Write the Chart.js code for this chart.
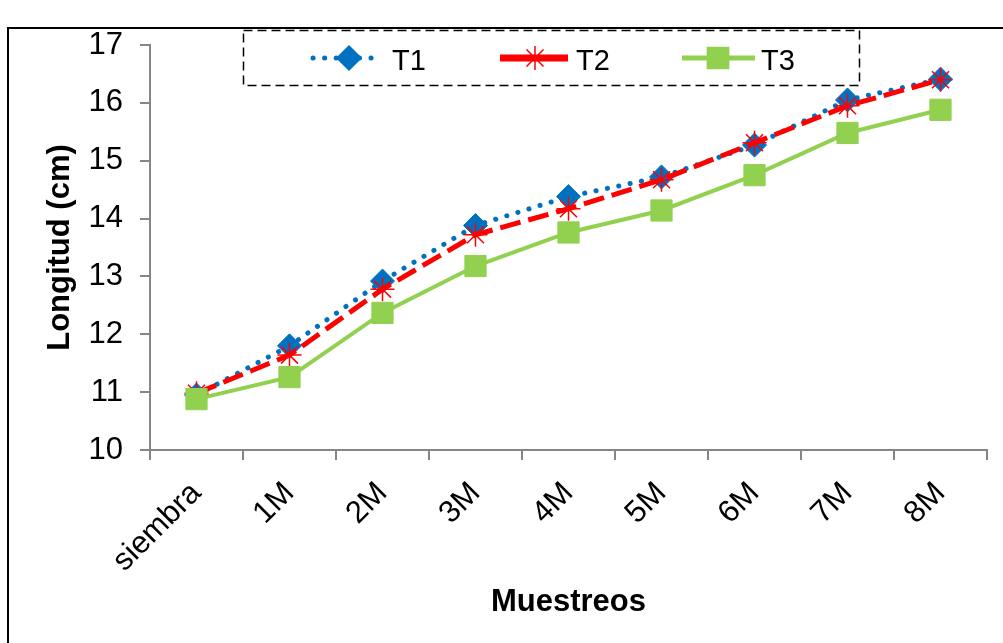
<!DOCTYPE html>
<html>
<head>
<meta charset="utf-8">
<script src="https://cdn.jsdelivr.net/npm/chart.js@4/dist/chart.umd.min.js"></script>
<style>
  html, body { margin: 0; padding: 0; background: #fff; }
  #wrap { width: 1003px; height: 643px; }
</style>
</head>
<body>
<div id="wrap"><canvas id="chart" width="1003" height="643"></canvas></div>
<script>
// sampling dates and mean length per treatment
var muestreos = ["siembra", "1M", "2M", "3M", "4M", "5M", "6M", "7M", "8M"];
var t1 = [10.95, 11.80, 12.92, 13.88, 14.38, 14.72, 15.27, 16.05, 16.41];
var t2 = [10.98, 11.64, 12.78, 13.72, 14.17, 14.67, 15.31, 15.95, 16.40];
var t3 = [10.88, 11.26, 12.37, 13.18, 13.76, 14.14, 14.75, 15.48, 15.88];
var yMin = 10, yMax = 17;

var font = "'Liberation Sans', Arial, sans-serif";
var axisGrey = "#868686";

var series = [
  { label: "T1", color: "#0070C0", style: "rectRot", radius: 12 },
  { label: "T2", color: "#FF0000", style: "star", radius: 12 },
  { label: "T3", color: "#92D050", style: "rect", radius: 15 }
];

// dashed legend box plus outer frame
var legendBox = {
  id: "legendBox",
  afterDraw: function(chart) {
    var ctx = chart.ctx;
    ctx.save();
    ctx.strokeStyle = "#000";
    ctx.lineWidth = 2;
    ctx.strokeRect(8, 28, 1010, 640);

    ctx.lineWidth = 1.5;
    ctx.setLineDash([9, 5]);
    ctx.strokeRect(243.5, 30.5, 616, 55);
    ctx.setLineDash([]);

    var y = 58;
    var items = [
      { x0: 313, x1: 382, cx: 349, tx: 392 },
      { x0: 500, x1: 568, cx: 535, tx: 576 },
      { x0: 682, x1: 755, cx: 718, tx: 761 }
    ];
    items.forEach(function(it, i) {
      var s = series[i];
      ctx.strokeStyle = s.color;
      ctx.fillStyle = s.color;
      ctx.beginPath();
      if (i === 0) {
        ctx.lineWidth = 5;
        ctx.lineCap = "round";
        ctx.setLineDash([0.1, 11.5]);
      } else if (i === 1) {
        ctx.lineWidth = 7;
        ctx.lineCap = "butt";
      } else {
        ctx.lineWidth = 5;
        ctx.lineCap = "butt";
      }
      ctx.moveTo(it.x0, y);
      ctx.lineTo(it.x1, y);
      ctx.stroke();
      ctx.setLineDash([]);
      ctx.lineWidth = 1.5;
      Chart.helpers.drawPoint(ctx, { pointStyle: s.style, radius: s.radius, rotation: 0, borderWidth: 1.5 }, it.cx, y);
      ctx.fillStyle = "#000";
      ctx.font = "29px " + font;
      ctx.textBaseline = "alphabetic";
      ctx.textAlign = "left";
      ctx.fillText(s.label, it.tx, 70);
    });
    ctx.restore();
  }
};

var ctx = document.getElementById("chart");

var data = {
  labels: muestreos,
  datasets: [
    {
      label: "T1",
      data: t1,
      order: 2,
      borderColor: series[0].color,
      backgroundColor: series[0].color,
      borderWidth: 5,
      borderDash: [0.1, 11.5],
      borderCapStyle: "round",
      pointStyle: series[0].style,
      pointRadius: series[0].radius,
      pointBorderWidth: 1,
      tension: 0
    },
    {
      label: "T2",
      data: t2,
      order: 1,
      borderColor: series[1].color,
      backgroundColor: series[1].color,
      borderWidth: 5,
      borderDash: [21, 8],
      pointStyle: series[1].style,
      pointRadius: series[1].radius,
      pointBorderWidth: 1.5,
      tension: 0
    },
    {
      label: "T3",
      data: t3,
      order: 0,
      borderColor: series[2].color,
      backgroundColor: series[2].color,
      borderWidth: 4,
      pointStyle: series[2].style,
      pointRadius: series[2].radius,
      pointBorderWidth: 1,
      tension: 0
    }
  ]
};

var options = {
  responsive: false,
  animation: false,
  layout: { padding: { left: 0, right: 14, top: 45, bottom: 0 } },
  plugins: {
    legend: { display: false },
    tooltip: { enabled: false }
  },
  scales: {
    x: {
      offset: true,
      grid: {
        offset: true,
        drawOnChartArea: false,
        drawTicks: true,
        tickLength: 10,
        color: axisGrey,
        lineWidth: 2
      },
      border: { color: axisGrey, width: 2 },
      ticks: {
        color: "#000",
        font: { family: font, size: 31 },
        minRotation: 45,
        maxRotation: 45,
        padding: 15
      },
      title: {
        display: true,
        text: "Muestreos",
        color: "#000",
        font: { family: font, size: 31, weight: "bold" },
        padding: { top: 0, bottom: 22 }
      },
      afterFit: function(scale) { scale.height = 193; }
    },
    y: {
      min: yMin,
      max: yMax,
      grid: {
        drawOnChartArea: false,
        drawTicks: true,
        tickLength: 10,
        color: axisGrey,
        lineWidth: 2
      },
      border: { color: axisGrey, width: 2 },
      ticks: {
        stepSize: 1,
        color: "#000",
        font: { family: font, size: 31 },
        padding: 17
      },
      title: {
        display: true,
        text: "Longitud (cm)",
        color: "#000",
        font: { family: font, size: 31, weight: "bold" },
        padding: { top: 42, bottom: 0 }
      },
      afterFit: function(scale) { scale.width = 150; }
    }
  }
};

var chart = new Chart(ctx, {
  type: "line",
  data: data,
  options: options,
  plugins: [legendBox]
});
</script>
</body>
</html>
